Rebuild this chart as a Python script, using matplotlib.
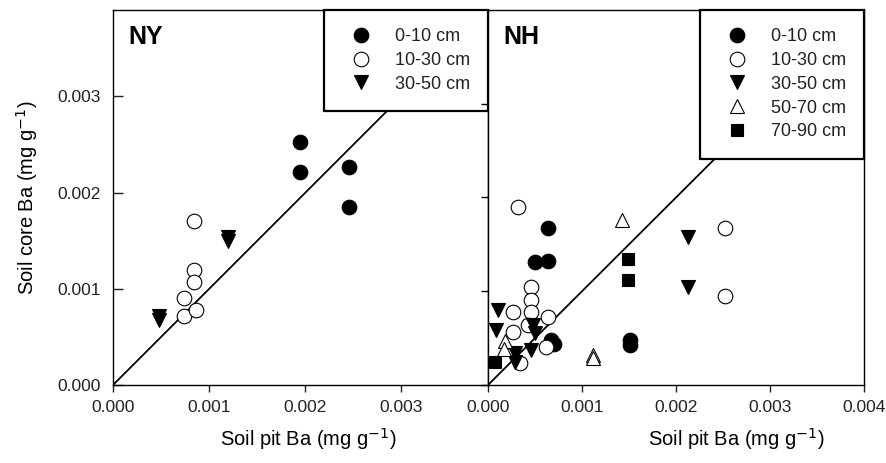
import matplotlib
matplotlib.use("Agg")
import matplotlib.pyplot as plt
from matplotlib.ticker import FixedLocator

plt.rcParams["font.family"] = ["Liberation Sans", "DejaVu Sans"]

# ---- NY data (soil pit Ba, soil core Ba; mg g-1) ----
ny_0_10_x = [0.00194, 0.00194, 0.00245, 0.00245]
ny_0_10_y = [0.00253, 0.00221, 0.00227, 0.00185]
ny_10_30_x = [0.00084, 0.00084, 0.00084, 0.00074, 0.00074, 0.00086]
ny_10_30_y = [0.00171, 0.00120, 0.00107, 0.00090, 0.00072, 0.00078]
ny_30_50_x = [0.00120, 0.00120, 0.00048, 0.00048]
ny_30_50_y = [0.00154, 0.00150, 0.00072, 0.00068]

# ---- NH data ----
nh_0_10_x = [0.00064, 0.00050, 0.00064, 0.00067, 0.00070, 0.00151, 0.00151]
nh_0_10_y = [0.00167, 0.00131, 0.00132, 0.00048, 0.00044, 0.00048, 0.00043]
nh_10_30_x = [0.00032, 0.00252, 0.00252, 0.00046, 0.00046, 0.00046, 0.00027,
              0.00064, 0.00027, 0.00043, 0.00062, 0.00034]
nh_10_30_y = [0.00190, 0.00167, 0.00095, 0.00105, 0.00091, 0.00078, 0.00078,
              0.00073, 0.00057, 0.00064, 0.00040, 0.00023]
nh_30_50_x = [0.00011, 0.00009, 0.00048, 0.00050, 0.00046, 0.00029, 0.00029,
              0.00213, 0.00213]
nh_30_50_y = [0.00080, 0.00059, 0.00064, 0.00055, 0.00037, 0.00034, 0.00025,
              0.00158, 0.00105]
nh_50_70_x = [0.00142, 0.00112, 0.00112, 0.00018, 0.00017]
nh_50_70_y = [0.00176, 0.00032, 0.00029, 0.00047, 0.00038]
nh_70_90_x = [0.00149, 0.00149, 0.00007]
nh_70_90_y = [0.00134, 0.00112, 0.00024]

depths = ["0-10 cm", "10-30 cm", "30-50 cm", "50-70 cm", "70-90 cm"]
styles = [("o", "black"), ("o", "white"), ("v", "black"), ("^", "white"), ("s", "black")]

fig = plt.figure(figsize=(8.87, 4.63), dpi=100)
ax1 = fig.add_axes([0.1274, 0.1685, 0.4228, 0.8100])
ax2 = fig.add_axes([0.5502, 0.1685, 0.4239, 0.8100])

panels = [
    (ax1, "NY", [(ny_0_10_x, ny_0_10_y), (ny_10_30_x, ny_10_30_y), (ny_30_50_x, ny_30_50_y)], 0.0039),
    (ax2, "NH", [(nh_0_10_x, nh_0_10_y), (nh_10_30_x, nh_10_30_y), (nh_30_50_x, nh_30_50_y),
                 (nh_50_70_x, nh_50_70_y), (nh_70_90_x, nh_70_90_y)], 0.0040),
]

for ax, name, series, lim in panels:
    ax.plot([0, 0.004], [0, 0.004], color="black", lw=1.3, zorder=2)
    for (xs, ys), (mk, fc), lab in zip(series, styles, depths):
        ms = 9 if mk == "s" else 10.5
        ax.plot(xs, ys, linestyle="none", marker=mk, markersize=ms,
                markerfacecolor=fc, markeredgecolor="black", markeredgewidth=0.8,
                label=lab, zorder=3)
    ax.set_xlim(0, lim)
    ax.set_ylim(0, lim)
    ax.text(0.04, 0.96, name, transform=ax.transAxes, fontsize=18,
            fontweight="bold", va="top", ha="left")
    for sp in ax.spines.values():
        sp.set_linewidth(1.0)
    leg = ax.legend(loc="upper right", borderaxespad=0, fontsize=13,
                    frameon=True, fancybox=False, framealpha=1,
                    edgecolor="black", borderpad=1.0, labelspacing=0.38,
                    handletextpad=0.9, handlelength=2.0)
    leg.get_frame().set_linewidth(1.6)
    leg.set_zorder(5)
    for t in leg.get_texts():
        t.set_color("#222222")
    ax.set_xlabel("Soil pit Ba (mg g$^{-1}$)", fontsize=14.5)

ax1.xaxis.set_major_locator(FixedLocator([0, 0.001, 0.002, 0.003]))
ax1.yaxis.set_major_locator(FixedLocator([0, 0.001, 0.002, 0.003]))
ax1.xaxis.set_major_formatter(plt.FuncFormatter(lambda v, p: f"{v:.3f}"))
ax1.yaxis.set_major_formatter(plt.FuncFormatter(lambda v, p: f"{v:.3f}"))
ax1.tick_params(axis="x", direction="out", length=5, width=1, labelsize=12.5, pad=6, colors="#222222")
ax1.tick_params(axis="y", direction="in", length=7, width=1, labelsize=12.5, pad=9, colors="#222222")
ax1.set_ylabel("Soil core Ba (mg g$^{-1}$)", fontsize=14.5)
ax1.xaxis.set_label_coords(0.52, -0.11)
ax1.yaxis.set_label_coords(-0.195, 0.5)

ax2.xaxis.set_major_locator(FixedLocator([0, 0.001, 0.002, 0.003, 0.004]))
ax2.yaxis.set_major_locator(FixedLocator([0, 0.001, 0.002, 0.003]))
ax2.xaxis.set_major_formatter(plt.FuncFormatter(lambda v, p: f"{v:.3f}"))
ax2.tick_params(axis="x", direction="out", length=5, width=1, labelsize=12.5, pad=6, colors="#222222")
ax2.tick_params(axis="y", direction="out", length=5, width=1, labelleft=False)
ax2.xaxis.set_label_coords(0.66, -0.11)

fig.savefig("out.png", dpi=100, facecolor="white")
